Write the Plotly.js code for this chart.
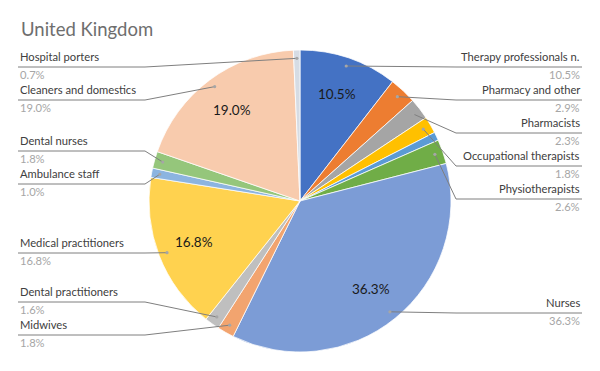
<!DOCTYPE html>
<html>
<head>
<meta charset="utf-8">
<script src="https://cdn.plot.ly/plotly-3.0.1.min.js"></script>
<style>html,body{margin:0;padding:0;background:#fff;}#chart{width:600px;height:371px;}</style>
</head>
<body>
<div id="chart"></div>
<script>
// ---- data (clockwise from 12 o'clock) ----
const categories = [
  "Therapy professionals n.", "Pharmacy and other", "Pharmacists",
  "Occupational therapists", "", "Physiotherapists", "Nurses", "Midwives",
  "Dental practitioners", "Medical practitioners", "Ambulance staff",
  "Dental nurses", "Cleaners and domestics", "Hospital porters"
];
const sharePct = [10.5, 2.9, 2.3, 1.8, 0.9, 2.6, 36.3, 1.8, 1.6, 16.8, 1.0, 1.8, 19.0, 0.7];
const titleText = "United Kingdom";

// ---- styles / layout config ----
const colors = ["#4472C4", "#ED7D31", "#A5A5A5", "#FFC000", "#5B9BD5", "#70AD47",
  "#7C9CD6", "#F2A46F", "#BFBFBF", "#FFD24F", "#8CB4E0", "#95C67B", "#F8CBAD", "#D6DCE4"];
const labelSide = ["R", "R", "R", "R", null, "R", "R", "L", "L", "L", "L", "L", "L", "L"];
const labelNameY = [56, 89, 122, 155, null, 188, 302, 324, 291, 242, 173, 140, 89, 56];
const insideMin = 10; // slices shown with inside percentage
const W = 600, H = 371, cx = 300, cy = 201, R = 151;
const font = "Lato, 'Open Sans', sans-serif";

const total = sharePct.reduce((a, b) => a + b, 0);
const pt = (frac, k) => {
  const th = 2 * Math.PI * frac;
  return [cx + k * R * Math.sin(th), cy - k * R * Math.cos(th)];
};

const annotations = [];
const shapes = [];
let cum = 0;
sharePct.forEach((v, i) => {
  const mid = (cum + v / 2) / total;
  cum += v;
  const pctTxt = v.toFixed(1) + "%";
  if (v >= insideMin) {
    const [tx, ty] = pt(mid, 0.75);
    annotations.push({x: tx, y: ty, xref: "x", yref: "y", text: pctTxt, showarrow: false,
      xanchor: "center", yanchor: "middle", font: {family: font, size: 13.5, color: "#1a1a1a"}});
  }
  const side = labelSide[i];
  if (!side) return;
  const ny = labelNameY[i];
  const uy = ny + 11;
  const [dx, dy] = pt(mid, 0.945);
  const edge = side === "L" ? 18 : 582;
  const bend = side === "L" ? 145 : 456;
  annotations.push({x: edge, y: ny, xref: "x", yref: "y", text: categories[i], showarrow: false,
    xanchor: side === "L" ? "left" : "right", yanchor: "middle",
    font: {family: font, size: 11.2, color: "#404040"}});
  annotations.push({x: edge, y: ny + 18, xref: "x", yref: "y", text: pctTxt, showarrow: false,
    xanchor: side === "L" ? "left" : "right", yanchor: "middle",
    font: {family: font, size: 11.2, color: "#A6A6A6"}});
  shapes.push({type: "path", xref: "x", yref: "y",
    path: `M ${edge} ${uy} L ${bend} ${uy} L ${dx} ${dy}`,
    line: {color: "#7F7F7F", width: 1}});
  shapes.push({type: "circle", xref: "x", yref: "y", x0: dx - 1.6, x1: dx + 1.6, y0: dy - 1.6, y1: dy + 1.6,
    fillcolor: "#A6A6A6", line: {width: 0}});
});

const trace = {
  type: "pie",
  labels: categories.map((c, i) => c || "slice " + i),
  values: sharePct,
  sort: false,
  direction: "clockwise",
  rotation: 0,
  textinfo: "none",
  hoverinfo: "label+value",
  marker: {colors: colors, line: {color: "#FFFFFF", width: 0.75}},
  domain: {x: [(cx - R) / W, (cx + R) / W], y: [1 - (cy + R) / H, 1 - (cy - R) / H]},
  showlegend: false
};

annotations.push({x: 19, y: 29, xref: "x", yref: "y", text: titleText, showarrow: false,
  xanchor: "left", yanchor: "middle", font: {family: font, size: 18.5, color: "#6E6E6E"}});

const layout = {
  width: W, height: H,
  margin: {l: 0, r: 0, t: 0, b: 0},
  paper_bgcolor: "#FFFFFF", plot_bgcolor: "rgba(0,0,0,0)",
  xaxis: {range: [0, W], visible: false, fixedrange: true},
  yaxis: {range: [H, 0], visible: false, fixedrange: true},
  showlegend: false,
  annotations: annotations,
  shapes: shapes
};

Plotly.newPlot("chart", [trace], layout, {displayModeBar: false, staticPlot: true});
</script>
</body>
</html>
